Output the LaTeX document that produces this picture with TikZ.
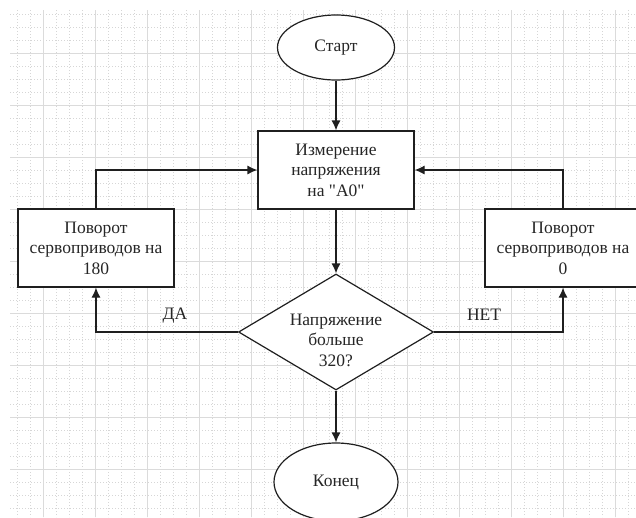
\documentclass[tikz,border=0pt]{standalone}
\usepackage{fontspec}
\setmainfont{Liberation Serif}
\usetikzlibrary{shapes.geometric,arrows.meta}
\begin{document}
\begin{tikzpicture}[x=1pt,y=-1pt,
  ink/.style={draw=black!88, line width=1.2pt},
  txt/.style={font=\fontsize{17.5}{20.5}\selectfont, align=center, text=black!85},
  terminal/.style={ellipse, ink, fill=white, inner sep=0pt, txt},
  stepbox/.style={rectangle, ink, fill=white, minimum width=156pt, minimum height=78pt, inner sep=0pt, txt},
  decision/.style={diamond, ink, fill=white, minimum width=195pt, minimum height=116pt, inner sep=0pt},
  arr/.style={ink, -{Latex[length=10pt,width=9pt]}},
  minorgrid/.style={draw=black!16, line width=0.6pt, dash pattern=on 1pt off 2pt},
  majorgrid/.style={draw=black!14, line width=0.9pt}]
\useasboundingbox (0,0) rectangle (636,517);
\fill[white] (0,0) rectangle (636,517);
% background grid: dotted minor lines every 13, solid major lines every 52
\foreach \k in {1,...,48} {
  \draw[minorgrid] ({4+13*\k},10) -- ({4+13*\k},517);
}
\foreach \k in {1,...,39} {
  \draw[minorgrid] (10,{1+13*\k}) -- (636,{1+13*\k});
}
\foreach \k in {0,...,11} {
  \draw[majorgrid] ({43+52*\k},10) -- ({43+52*\k},517);
}
\foreach \k in {1,...,9} {
  \draw[majorgrid] (10,{1+52*\k}) -- (636,{1+52*\k});
}
% flowchart blocks
\node[terminal, minimum width=117pt, minimum height=65pt] (start) at (336,47.5) {Старт};
\node[stepbox] (proc) at (336,170) {Измерение\\напряжения\\на \textquotedbl А0\textquotedbl};
\node[stepbox] (left) at (96,248) {Поворот\\сервоприводов на\\180};
\node[stepbox] (right) at (563,248) {Поворот\\сервоприводов на\\0};
\node[decision] (dec) at (336,332) {};
\node[txt] (dectext) at (336,340) {Напряжение\\больше\\320?};
\node[terminal, minimum width=124pt, minimum height=78pt] (end) at (336,482) {Конец};
% connectors
\draw[arr] (start) -- (proc);
\draw[arr] (proc) -- (dec);
\draw[arr] (dec) -- (end);
\draw[arr] (left.north) |- (proc.west);
\draw[arr] (right.north) |- (proc.east);
\draw[arr] (dec.west) -| (left.south);
\draw[arr] (dec.east) -| (right.south);
\node[txt] (yes) at (175,316) {ДА};
\node[txt] (no) at (484,315) {НЕТ};
\end{tikzpicture}
\end{document}
